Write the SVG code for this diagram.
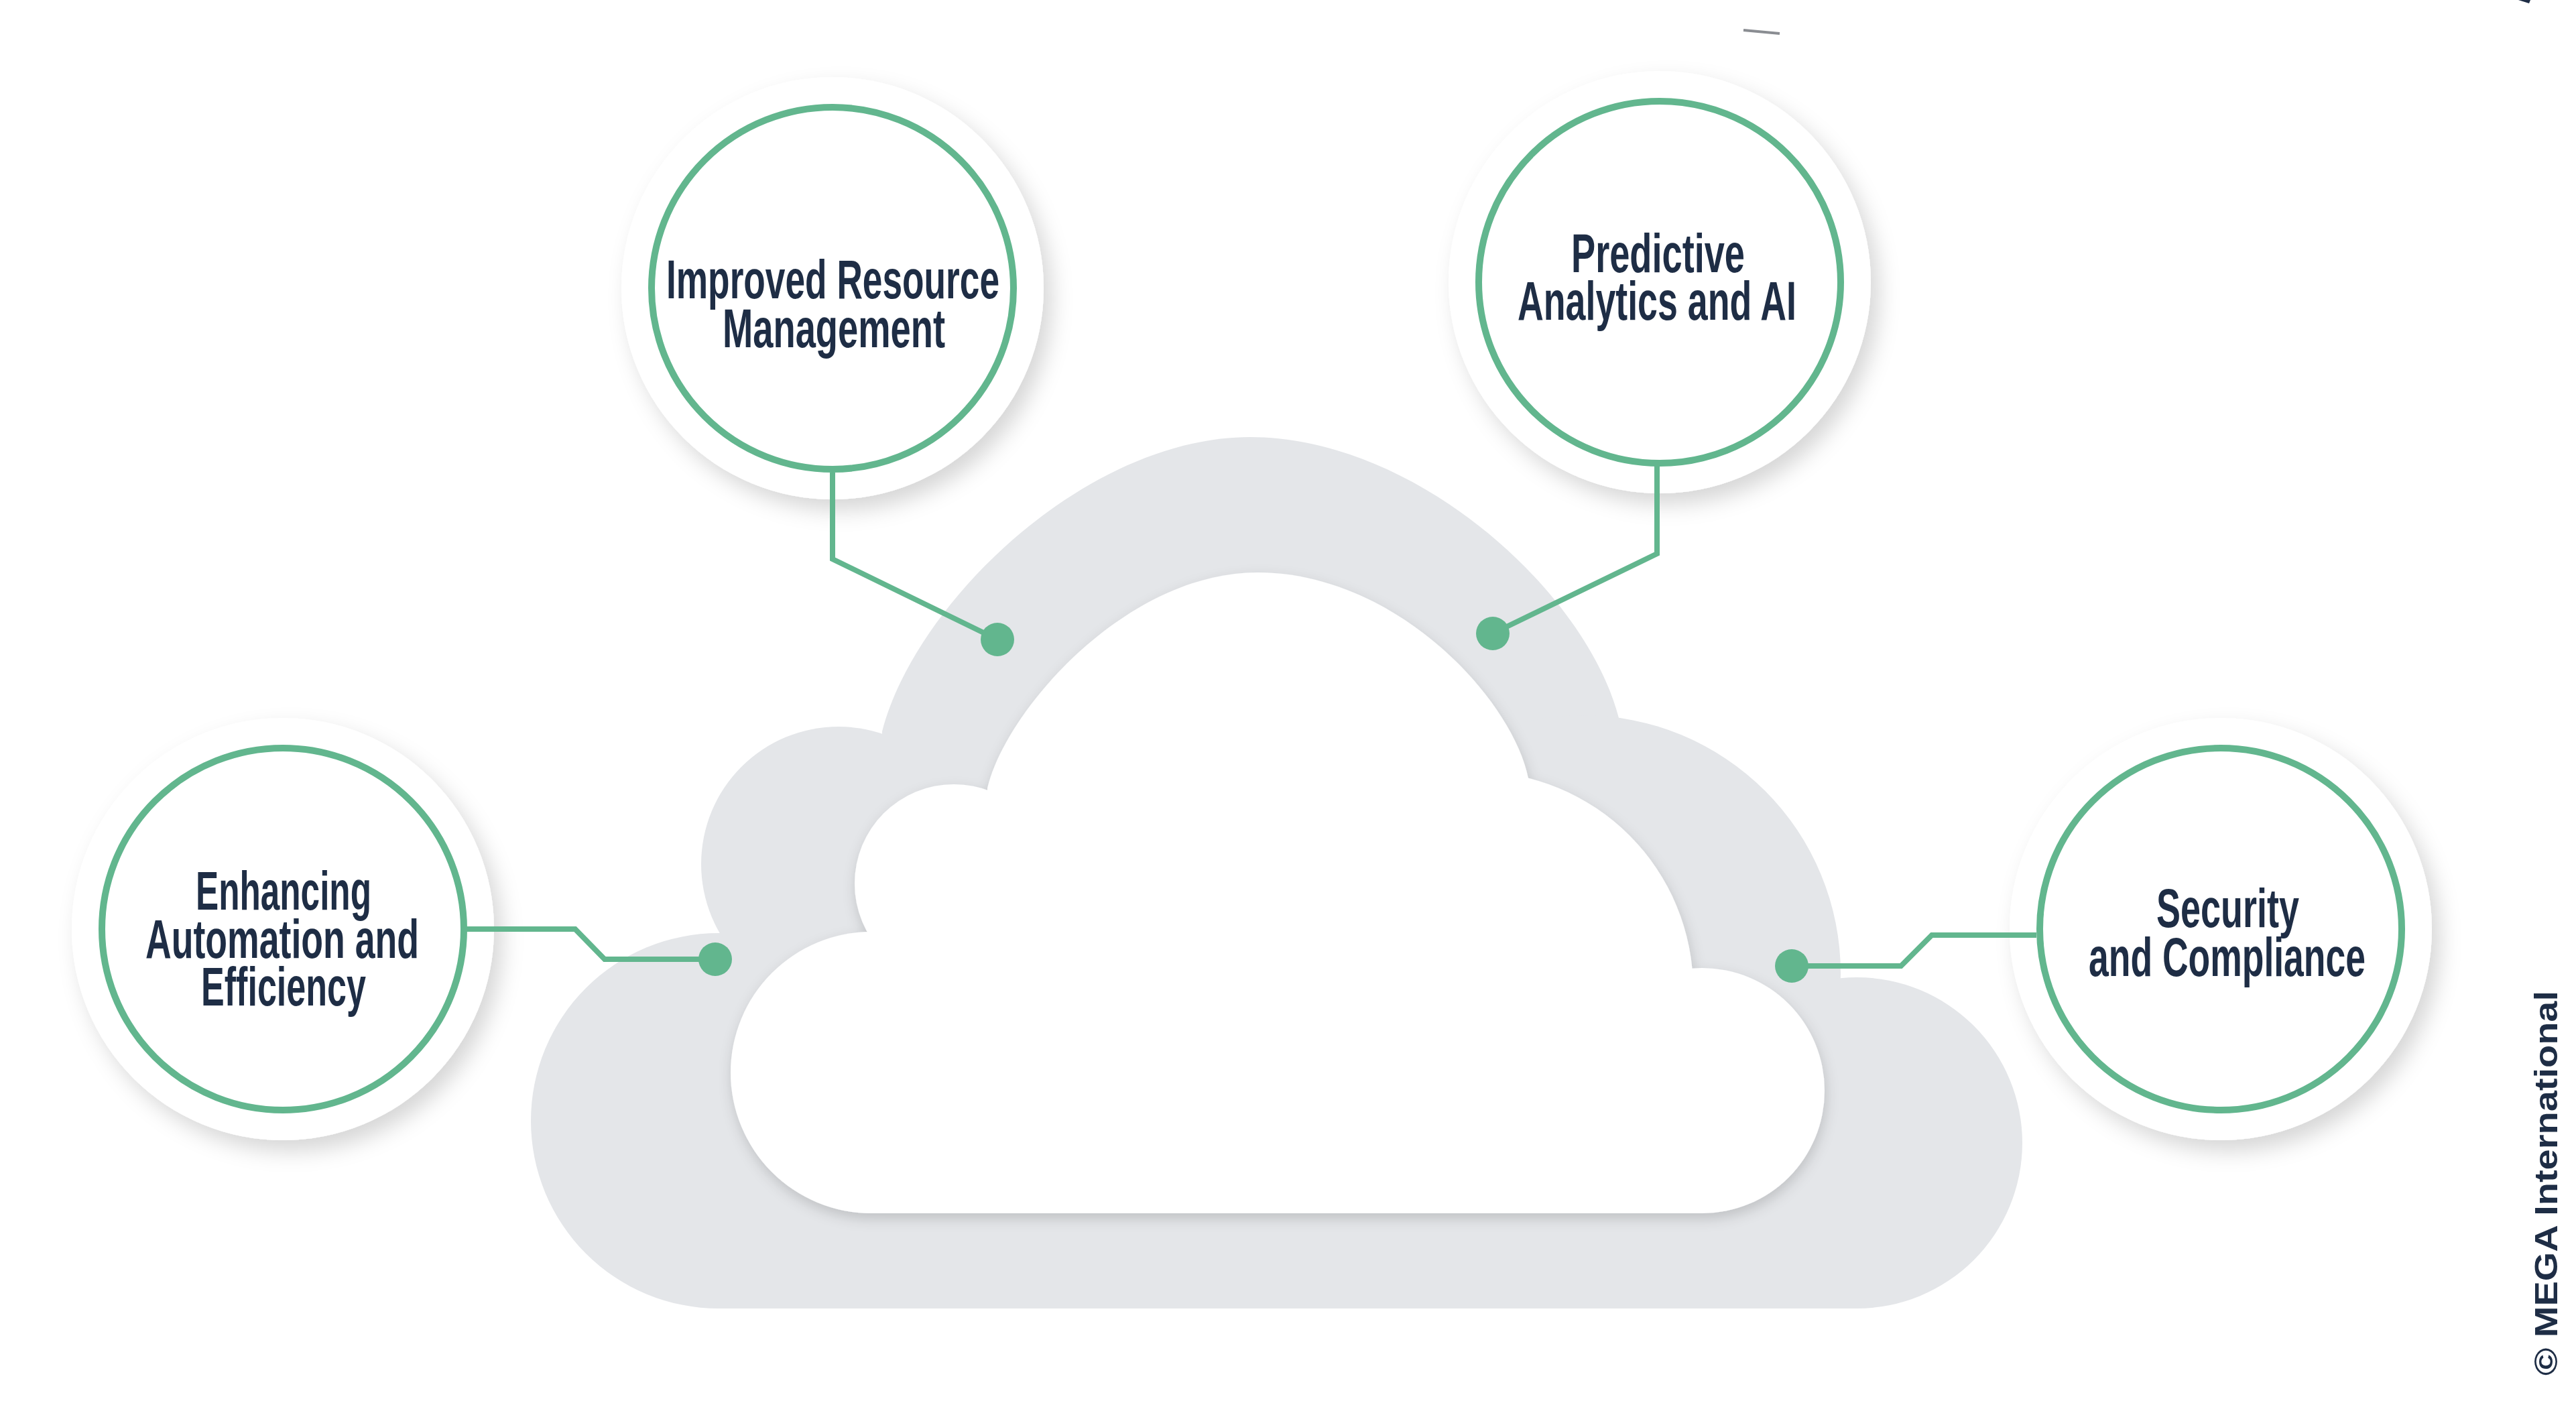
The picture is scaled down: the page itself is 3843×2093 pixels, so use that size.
<svg xmlns="http://www.w3.org/2000/svg" width="3843" height="2093" viewBox="0 0 3843 2093">
  <defs>
    <filter id="discShadow" x="-30%" y="-30%" width="160%" height="160%">
      <feDropShadow dx="12" dy="16" stdDeviation="16" flood-color="#000" flood-opacity="0.16"/>
    </filter>
    <filter id="cloudShadow" x="-10%" y="-10%" width="120%" height="130%">
      <feDropShadow dx="2" dy="8" stdDeviation="10" flood-color="#000" flood-opacity="0.16"/>
    </filter>
  </defs>
  <style>
    .grey { fill: #e4e6e9; }
    .inner { fill: #ffffff; }
    .disc { fill: #ffffff; filter: url(#discShadow); }
    .ring { fill: none; stroke: #62b68e; stroke-width: 10; }
    .conn { fill: none; stroke: #62b68e; stroke-width: 8; stroke-linejoin: miter; }
    .dot { fill: #62b68e; }
    .label { font-family: "Liberation Sans Narrow", "Liberation Sans", Arial, sans-serif; font-size: 81px; font-weight: bold; fill: #1e2d45; }
    .copy { font-family: "Liberation Sans", Arial, sans-serif; font-size: 48px; font-weight: bold; fill: #1e2d45; }
  </style>
  <rect width="3843" height="2093" fill="#ffffff"/>

  <g id="marks">
    <path d="M2601,45 L2655,50" stroke="#8a8d92" stroke-width="4" fill="none"/>
    <path d="M3757,0 L3775,0 L3773,5 Z" fill="#1e2d45"/>
  </g>

  <g id="cloud">
    <g id="cloud-outer" class="grey">
      <circle cx="1072" cy="1672" r="280"/>
      <circle cx="1251" cy="1289" r="205"/>
      <path d="M1316,1091 C1365,900 1620,652 1865,652 C2110,652 2365,880 2415,1071 L2415,1470 L1316,1470 Z"/>
      <circle cx="2361" cy="1452" r="385"/>
      <circle cx="2770" cy="1705" r="247"/>
      <rect x="1072" y="1465" width="1698" height="487"/>
    </g>
    <g id="cloud-inner" class="inner" filter="url(#cloudShadow)">
      <circle cx="1300" cy="1600" r="210"/>
      <circle cx="1423" cy="1318" r="148"/>
      <path d="M1473,1176 C1500,1060 1680,854 1876,854 C2080,854 2255,1040 2280,1161 L2280,1470 L1473,1470 Z"/>
      <circle cx="2201" cy="1476" r="325"/>
      <circle cx="2539" cy="1627" r="183"/>
      <rect x="1300" y="1440" width="1200" height="370"/>
      <rect x="1300" y="1465" width="1239" height="345"/>
    </g>
  </g>

  <g id="node-resource">
    <circle class="disc" cx="1242" cy="430" r="315"/>
    <circle class="ring" cx="1242" cy="430" r="270"/>
    <text class="label" x="994" y="445" textLength="497" lengthAdjust="spacingAndGlyphs">Improved Resource</text>
    <text class="label" x="1078" y="518" textLength="332" lengthAdjust="spacingAndGlyphs">Management</text>
  </g>

  <g id="node-predictive">
    <circle class="disc" cx="2476" cy="421" r="315"/>
    <circle class="ring" cx="2476" cy="421" r="270"/>
    <text class="label" x="2344" y="406" textLength="259" lengthAdjust="spacingAndGlyphs">Predictive</text>
    <text class="label" x="2264" y="477" textLength="416" lengthAdjust="spacingAndGlyphs">Analytics and AI</text>
  </g>

  <g id="node-automation">
    <circle class="disc" cx="422" cy="1386" r="315"/>
    <circle class="ring" cx="422" cy="1386" r="270"/>
    <text class="label" x="292" y="1357" textLength="262" lengthAdjust="spacingAndGlyphs">Enhancing</text>
    <text class="label" x="217" y="1429" textLength="408" lengthAdjust="spacingAndGlyphs">Automation and</text>
    <text class="label" x="300" y="1500" textLength="246" lengthAdjust="spacingAndGlyphs">Efficiency</text>
  </g>

  <g id="node-security">
    <circle class="disc" cx="3313" cy="1386" r="315"/>
    <circle class="ring" cx="3313" cy="1386" r="270"/>
    <text class="label" x="3217" y="1383" textLength="213" lengthAdjust="spacingAndGlyphs">Security</text>
    <text class="label" x="3116" y="1456" textLength="413" lengthAdjust="spacingAndGlyphs">and Compliance</text>
  </g>

  <g id="connectors">
    <path class="conn" d="M1242,705 V834 L1488,954"/>
    <circle class="dot" cx="1488" cy="954" r="25"/>
    <path class="conn" d="M2472,694 V826 L2227,945"/>
    <circle class="dot" cx="2227" cy="945" r="25"/>
    <path class="conn" d="M696,1386 H858 L902,1431 H1067"/>
    <circle class="dot" cx="1067" cy="1431" r="25"/>
    <path class="conn" d="M3038,1395 H2882 L2836,1441 H2673"/>
    <circle class="dot" cx="2673" cy="1441" r="25"/>
  </g>

  <g id="copyright">
    <text class="copy" transform="translate(3815,2052) rotate(-90)" textLength="574" lengthAdjust="spacingAndGlyphs">© MEGA International</text>
  </g>
</svg>
